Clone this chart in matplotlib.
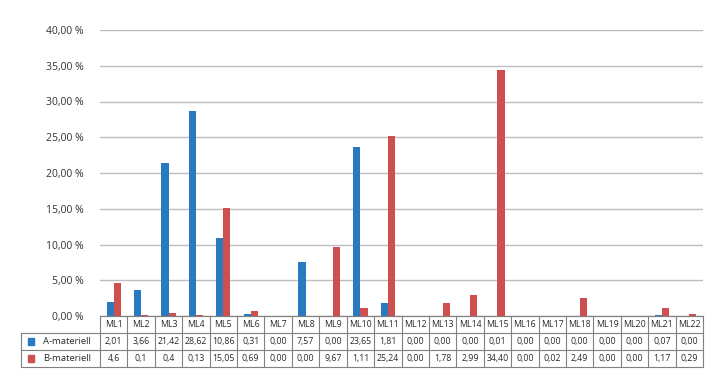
import matplotlib
matplotlib.use("Agg")
import matplotlib.pyplot as plt
from matplotlib.patches import Rectangle
import numpy as np

categories = ["ML1", "ML2", "ML3", "ML4", "ML5", "ML6", "ML7", "ML8", "ML9", "ML10", "ML11",
              "ML12", "ML13", "ML14", "ML15", "ML16", "ML17", "ML18", "ML19", "ML20", "ML21", "ML22"]
a_values = [2.01, 3.66, 21.42, 28.62, 10.86, 0.31, 0.00, 7.57, 0.00, 23.65, 1.81,
            0.00, 0.00, 0.00, 0.01, 0.00, 0.00, 0.00, 0.00, 0.00, 0.07, 0.00]
b_values = [4.6, 0.1, 0.4, 0.13, 15.05, 0.69, 0.00, 0.00, 9.67, 1.11, 25.24,
            0.00, 1.78, 2.99, 34.40, 0.00, 0.02, 2.49, 0.00, 0.00, 1.17, 0.29]
a_labels = ["2,01", "3,66", "21,42", "28,62", "10,86", "0,31", "0,00", "7,57", "0,00", "23,65", "1,81",
            "0,00", "0,00", "0,00", "0,01", "0,00", "0,00", "0,00", "0,00", "0,00", "0,07", "0,00"]
b_labels = ["4,6", "0,1", "0,4", "0,13", "15,05", "0,69", "0,00", "0,00", "9,67", "1,11", "25,24",
            "0,00", "1,78", "2,99", "34,40", "0,00", "0,02", "2,49", "0,00", "0,00", "1,17", "0,29"]
series_names = ["A-materiell", "B-materiell"]
yticks = [0, 5, 10, 15, 20, 25, 30, 35, 40]

BLUE = "#2a7abf"
RED = "#cd4f50"
plt.rcParams["font.family"] = ["Open Sans", "DejaVu Sans"]

W, H = 719, 383
fig = plt.figure(figsize=(W / 100, H / 100), dpi=100)
L, R = 100, 703
top_px, bot_px = 30, 316
ax = fig.add_axes([L / W, (H - bot_px) / H, (R - L) / W, (bot_px - top_px) / H])

x = np.arange(len(categories))
bw = 0.26
ax.bar(x - bw / 2, a_values, bw, color=BLUE, zorder=3)
ax.bar(x + bw / 2, b_values, bw, color=RED, zorder=3)
ax.set_xlim(-0.5, len(categories) - 0.5)
ax.set_ylim(0, 40)
ax.set_yticks(yticks)
ax.set_yticklabels([f"{v:.2f}".replace(".", ",") + " %" for v in yticks], fontsize=7.5, color="#333333")
ax.tick_params(axis="y", length=0, pad=12)
ax.set_xticks([])
ax.grid(axis="y", color="#bdbdbd", linewidth=1.0, zorder=0)
for s in ["top", "right", "left"]:
    ax.spines[s].set_visible(False)
ax.spines["bottom"].set_color("#888888")

# data table
row_h = 17
tab = fig.add_axes([L / W, (H - bot_px - 3 * row_h) / H, (R - L) / W, 3 * row_h / H])
tab.set_xlim(-0.5, len(categories) - 0.5)
tab.set_ylim(0, 3)
tab.axis("off")
unit_px = (R - L) / len(categories)
left_ext = -0.5 - (L - 21) / unit_px
lc = "#808080"
lw = 0.8
tab.plot([-0.5, len(categories) - 0.5], [3, 3], color=lc, lw=lw, clip_on=False)
for yy in [2, 1, 0]:
    tab.plot([left_ext, len(categories) - 0.5], [yy, yy], color=lc, lw=lw, clip_on=False)
for i in range(len(categories) + 1):
    tab.plot([i - 0.5, i - 0.5], [0, 3], color=lc, lw=lw, clip_on=False)
tab.plot([left_ext, left_ext], [0, 2], color=lc, lw=lw, clip_on=False)

fs = 6.3
tc = "#2a2a2a"
for i, c in enumerate(categories):
    tab.text(i, 2.5, c, ha="center", va="center", fontsize=fs, color=tc)
    tab.text(i, 1.5, a_labels[i], ha="center", va="center", fontsize=fs, color=tc)
    tab.text(i, 0.5, b_labels[i], ha="center", va="center", fontsize=fs, color=tc)

sq = 0.22
for yy, name, col in [(1.5, series_names[0], BLUE), (0.5, series_names[1], RED)]:
    sx = left_ext + 0.25
    tab.add_patch(Rectangle((sx, yy - 0.2), sq, 0.4, color=col, clip_on=False))
    tab.text(sx + 0.55, yy, name, ha="left", va="center", fontsize=6.8, color=tc)

fig.savefig("out.png", dpi=100)
